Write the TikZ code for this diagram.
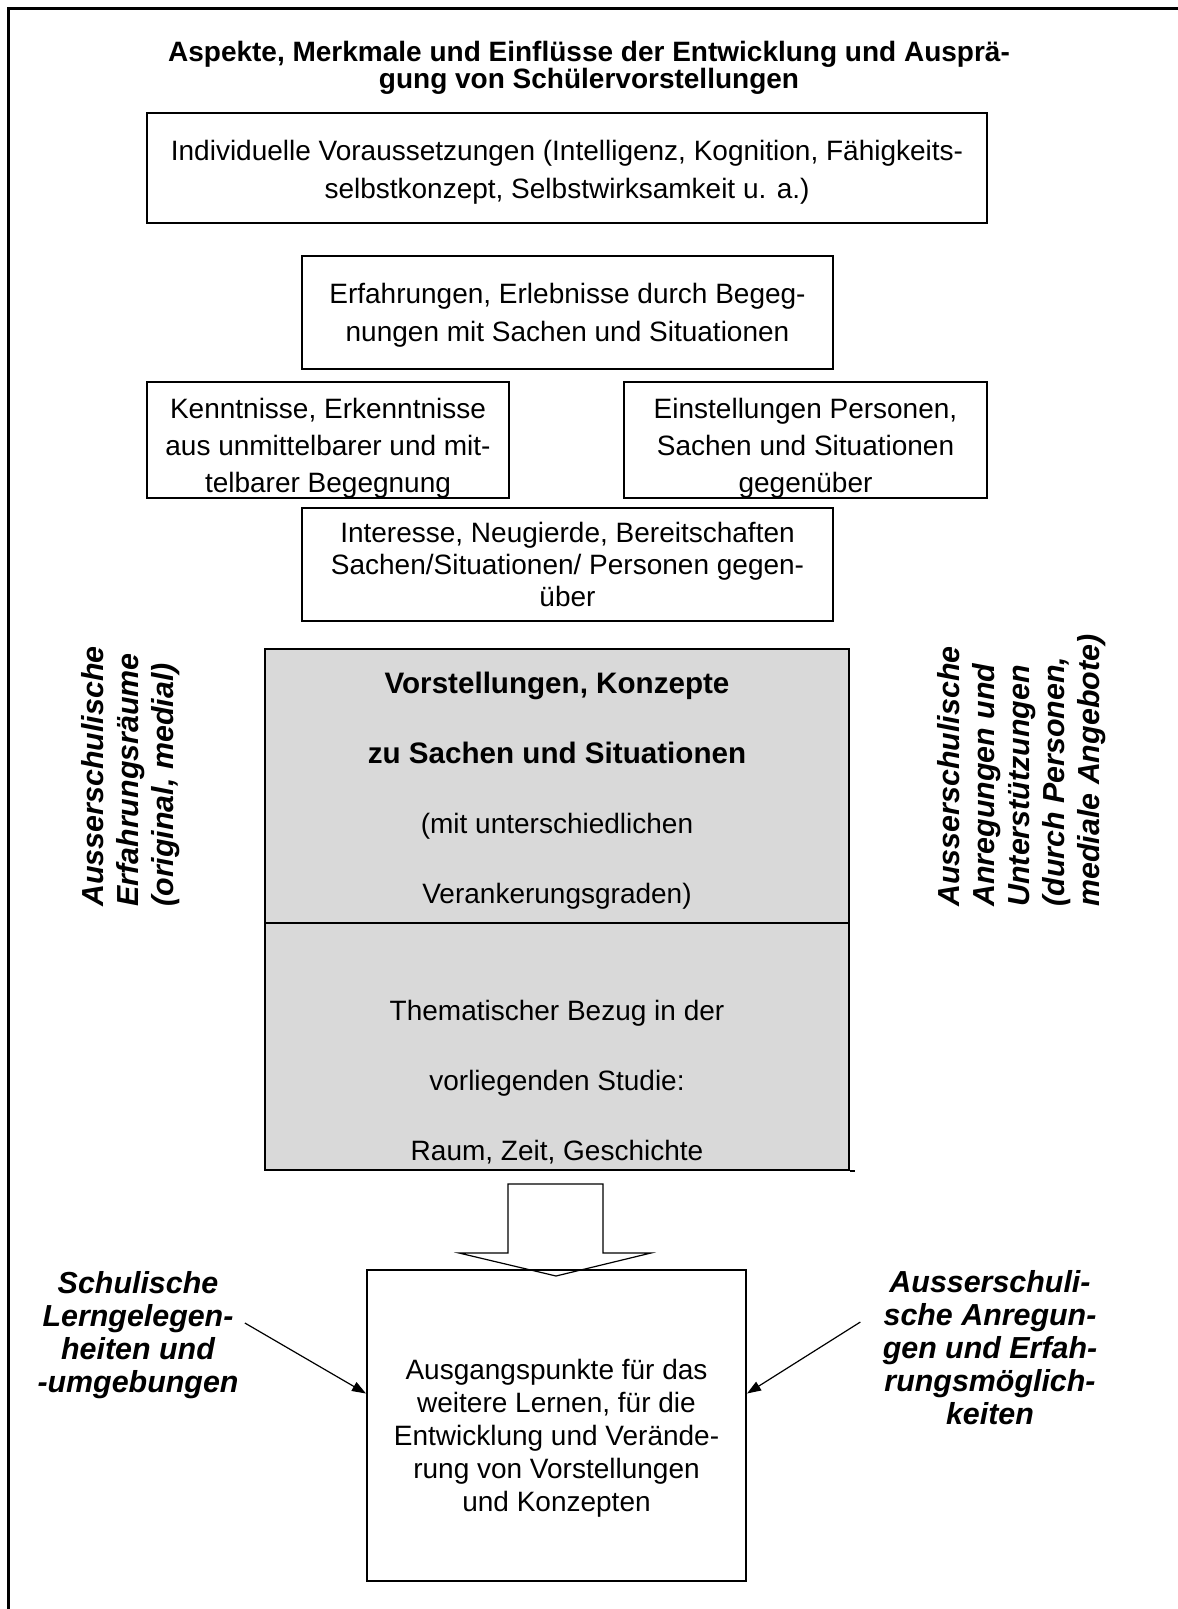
\documentclass[tikz,border=0pt]{standalone}
\usepackage{fontspec}
\setmainfont{Liberation Sans}
\definecolor{grau}{HTML}{D9D9D9}
\usepackage{tikz}
\usetikzlibrary{arrows.meta}

% Stuetze fuer die erste Zeile (schiebt den Text im Kasten nach unten)
\newcommand\vorlauf[1]{\rule{0pt}{\dimexpr10pt+#1\relax}}

\tikzset{
  box/.style={draw, line width=1pt, fill=white, align=center, inner sep=0pt,
    font=\fontsize{14}{19}\selectfont},
  graubox/.style={draw, line width=1pt, fill=grau, inner sep=0pt,
    minimum width=292pt},
  seitentext/.style={align=center, inner sep=0pt,
    font=\fontsize{15.2}{16.5}\selectfont\bfseries\itshape},
  quertext/.style={rotate=90, anchor=west, align=left, inner sep=0pt,
    font=\fontsize{15.2}{17.5}\selectfont\bfseries\itshape},
  pfeil/.style={-{Triangle[length=7pt,width=5pt]}, line width=0.6pt},
}

\begin{document}
\begin{tikzpicture}[x=0.5pt, y=-0.5pt]
  \useasboundingbox (0,0) rectangle (1177,1609);
  % Rahmen (rechts und unten abgeschnitten)
  \draw[line width=1.5pt] (8,1620) -- (8,9) -- (1190,9);

  \node[align=center, inner sep=0pt, font=\fontsize{14}{13.2}\selectfont\bfseries] (titel) at (589,68)
    {Aspekte, Merkmale und Einflüsse der Entwicklung und Ausprä-\\gung von Schülervorstellungen};

  \node[box, minimum width=420pt, minimum height=55pt] (indiv) at (567,168)
    {\vorlauf{4.5pt}Individuelle Voraussetzungen (Intelligenz, Kognition, Fähigkeits-\\selbstkonzept, Selbstwirksamkeit u. a.)};
  \node[box, minimum width=265.5pt, minimum height=56.5pt] (erfahr) at (567.5,312.5)
    {\vorlauf{3pt}Erfahrungen, Erlebnisse durch Begeg-\\nungen mit Sachen und Situationen};
  \node[box, minimum width=181pt, minimum height=58pt, font=\fontsize{14}{18.5}\selectfont] (kennt) at (328,440)
    {\vorlauf{8pt}Kenntnisse, Erkenntnisse\\aus unmittelbarer und mit-\\telbarer Begegnung};
  \node[box, minimum width=181.5pt, minimum height=58pt, font=\fontsize{14}{18.5}\selectfont] (einst) at (805.5,440)
    {\vorlauf{8pt}Einstellungen Personen,\\Sachen und Situationen\\gegenüber};
  \node[box, minimum width=265.5pt, minimum height=56.5pt, font=\fontsize{14}{16}\selectfont] (inter) at (567.5,564.5)
    {Interesse, Neugierde, Bereitschaften\\Sachen/Situationen/ Personen gegen-\\über};

  % graue Mitte
  \node[graubox, minimum height=137pt, align=center, font=\fontsize{14}{35}\selectfont] (vorst) at (557,786)
    {\vorlauf{5pt}\fontsize{14.8}{35}\selectfont\textbf{Vorstellungen, Konzepte}\\
     \fontsize{14.8}{35}\selectfont\textbf{zu Sachen und Situationen}\\(mit unterschiedlichen\\Verankerungsgraden)};
  \node[graubox, minimum height=123.5pt] (thema) at (557,1046.5) {};
  \draw[line width=1pt] (thema.south east) -- ++(5,0);
  \node[align=center, inner sep=0pt, font=\fontsize{14}{35}\selectfont] (thematext) at (557,1082)
    {Thematischer Bezug in der\\vorliegenden Studie:\\Raum, Zeit, Geschichte};

  \node[quertext] (links) at (131,907)
    {Ausserschulische\\Erfahrungsräume\\(original, medial)};
  \node[quertext] (rechts) at (1022,907)
    {Ausserschulische\\Anregungen und\\Unterstützungen\\(durch Personen,\\mediale Angebote)};

  % Blockpfeil
  \draw[line width=0.6pt, fill=white] (508,1184) -- (603,1184) -- (603,1253) -- (651,1253)
    -- (556,1276) -- (459,1253) -- (508,1253) -- cycle;

  \node[box, minimum width=189.5pt, minimum height=155.5pt, font=\fontsize{14}{16.5}\selectfont,
    fill=none] (ausgang) at (556.5,1425.5)
    {\vorlauf{12.8pt}Ausgangspunkte für das\\weitere Lernen, für die\\Entwicklung und Verände-\\rung von Vorstellungen\\und Konzepten};

  \node[seitentext] (schule) at (138,1335)
    {Schulische\\Lerngelegen-\\heiten und\\-umgebungen};
  \node[seitentext] (aussen) at (990,1348)
    {Ausserschuli-\\sche Anregun-\\gen und Erfah-\\rungsmöglich-\\keiten};

  \draw[pfeil] ([xshift=3pt,yshift=6pt]schule.east) -- ([yshift=16pt]ausgang.west);
  \draw[pfeil] ([xshift=-11pt,yshift=13pt]aussen.west) -- ([yshift=16pt]ausgang.east);
\end{tikzpicture}
\end{document}
